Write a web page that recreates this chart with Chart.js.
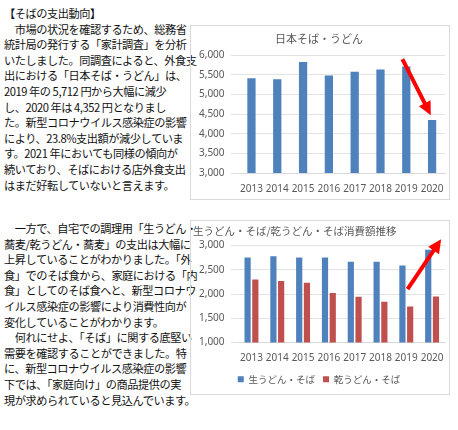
<!DOCTYPE html>
<html><head><meta charset="utf-8">
<script src="https://cdn.jsdelivr.net/npm/chart.js@4"></script>
<style>
body{margin:0;background:#fff;font-family:"Noto Sans CJK JP",sans-serif;}
#txt1,#txt2{position:absolute;left:4px;width:184px;font-size:11.2px;line-height:15.6px;color:#111;white-space:pre;letter-spacing:-0.45px}
#txt1{top:6px}
#txt2{top:221px}
.box{position:absolute;left:190px;width:260px;height:175px;border:1px solid #d9d9d9;box-sizing:border-box}
</style></head>
<body>
<div id="txt1">【そばの支出動向】
　市場の状況を確認するため、総務省
統計局の発行する「家計調査」を分析
いたしました。同調査によると、外食支
出における「日本そば・うどん」は、
2019 年の 5,712 円から大幅に減少
し、2020 年は 4,352 円となりまし
た。新型コロナウイルス感染症の影響
により、23.8%支出額が減少していま
す。2021 年においても同様の傾向が
続いており、そばにおける店外食支出
はまだ好転していないと言えます。</div>
<div id="txt2">　一方で、自宅での調理用「生うどん・
蕎麦/乾うどん・蕎麦」の支出は大幅に
上昇していることがわかりました。「外
食」でのそば食から、家庭における「内
食」としてのそば食へと、新型コロナウ
イルス感染症の影響により消費性向が
変化していることがわかります。
　何れにせよ、「そば」に関する底堅い
需要を確認することができました。特
に、新型コロナウイルス感染症の影響
下では、「家庭向け」の商品提供の実
現が求められていると見込んでいます。</div>
<div class="box" style="top:25px"><canvas id="c1"></canvas></div>
<div class="box" style="top:220px"><canvas id="c2"></canvas></div>
<script>
const years = ['2013','2014','2015','2016','2017','2018','2019','2020'];
const sobaUdon = [5411, 5387, 5827, 5482, 5576, 5639, 5712, 4352];
const namaSoba = [2756, 2780, 2756, 2756, 2665, 2665, 2591, 2915];
const kanSoba = [2299, 2268, 2232, 2024, 1945, 1841, 1744, 1951];

const tickFont = {family: '"Noto Sans", sans-serif', size: 10};
const grey = '#595959';

// arrow drawn in data coordinates: [x index, y value] -> [x index, y value]
function arrowPlugin(from, to) {
  return {
    id: 'arrow',
    afterDatasetsDraw(chart) {
      const x = chart.scales.x, y = chart.scales.y, ctx = chart.ctx;
      const x0 = x.getPixelForValue(from[0]), y0 = y.getPixelForValue(from[1]);
      const x1 = x.getPixelForValue(to[0]), y1 = y.getPixelForValue(to[1]);
      const a = Math.atan2(y1 - y0, x1 - x0);
      ctx.save();
      ctx.strokeStyle = ctx.fillStyle = '#ff0000';
      ctx.lineWidth = 4;
      ctx.beginPath();
      ctx.moveTo(x0, y0);
      ctx.lineTo(x1 - 10 * Math.cos(a), y1 - 10 * Math.sin(a));
      ctx.stroke();
      ctx.beginPath();
      ctx.moveTo(x1, y1);
      ctx.lineTo(x1 - 15 * Math.cos(a - 0.45), y1 - 15 * Math.sin(a - 0.45));
      ctx.lineTo(x1 - 15 * Math.cos(a + 0.45), y1 - 15 * Math.sin(a + 0.45));
      ctx.closePath();
      ctx.fill();
      ctx.restore();
    }
  };
}

function scales(min, max, step) {
  return {
    x: {grid: {display: false}, border: {color: '#d9d9d9'}, ticks: {color: grey, font: tickFont, maxRotation: 0, autoSkip: false, padding: 2}},
    y: {min: min, max: max, ticks: {stepSize: step, color: grey, font: tickFont, padding: 6,
        callback: v => v.toLocaleString('en-US')},
        grid: {color: '#e3e3e3'}, border: {display: false}}
  };
}

new Chart(document.getElementById('c1'), {
  type: 'bar',
  data: {labels: years, datasets: [{label: '日本そば・うどん', data: sobaUdon, backgroundColor: '#4F81BD', barPercentage: 0.32, categoryPercentage: 1}]},
  options: {
    responsive: true, maintainAspectRatio: false, animation: false,
    layout: {padding: {left: 2, right: 4, top: 0, bottom: 2}},
    plugins: {legend: {display: false},
      title: {display: true, text: '日本そば・うどん', color: grey, font: {family: '"Noto Sans CJK JP"', size: 11, weight: 'normal'}, padding: {top: 6, bottom: 10}}},
    scales: scales(3000, 6000, 500)
  },
  plugins: [arrowPlugin([5.85, 5900], [6.95, 4470])]
});

new Chart(document.getElementById('c2'), {
  type: 'bar',
  data: {labels: years, datasets: [
    {label: '生うどん・そば', data: namaSoba, backgroundColor: '#4F81BD', barPercentage: 0.8, categoryPercentage: 0.6},
    {label: '乾うどん・そば', data: kanSoba, backgroundColor: '#C0504D', barPercentage: 0.8, categoryPercentage: 0.6}
  ]},
  options: {
    responsive: true, maintainAspectRatio: false, animation: false,
    layout: {padding: {left: 2, right: 4, top: 0, bottom: 0}},
    plugins: {
      legend: {position: 'bottom', labels: {boxWidth: 6, boxHeight: 6, color: grey, padding: 8, font: {family: '"Noto Sans CJK JP"', size: 9.5}}},
      title: {display: true, text: '生うどん・そば/乾うどん・そば消費額推移', color: grey, font: {family: '"Noto Sans CJK JP"', size: 10.5, weight: 'normal'}, padding: {top: 4, bottom: 8}, align: 'start'}},
    scales: scales(1000, 3000, 500)
  },
  plugins: [arrowPlugin([6.05, 2100], [7.35, 3130])]
});
</script>
</body></html>
